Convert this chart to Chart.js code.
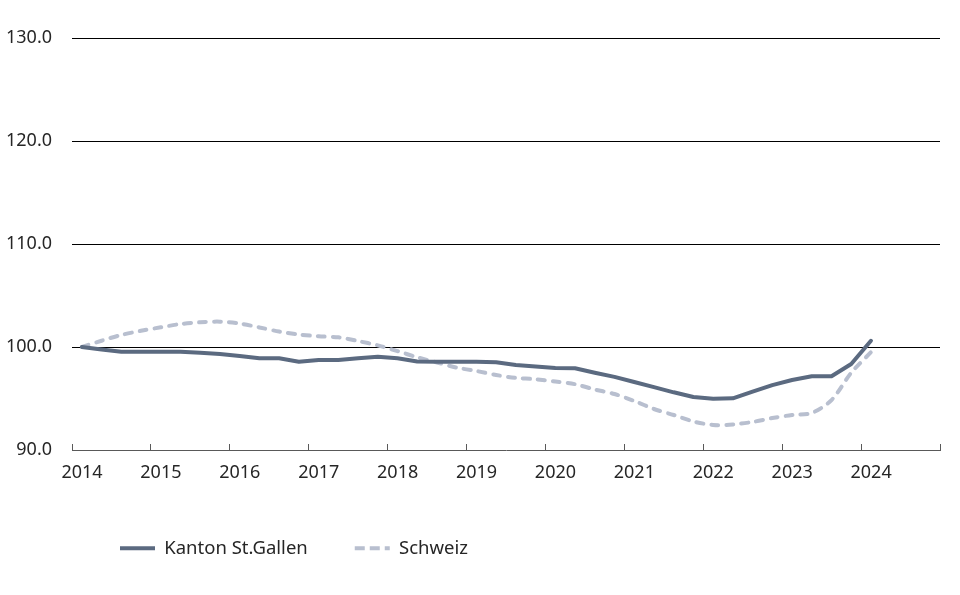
<!DOCTYPE html>
<html>
<head>
<meta charset="utf-8">
<script src="https://cdn.jsdelivr.net/npm/chart.js@4.4.1/dist/chart.umd.min.js"></script>
<style>
html,body{margin:0;padding:0;background:#fff;}
#wrap{width:960px;height:595px;}
</style>
</head>
<body>
<div id="wrap"><canvas id="c" width="960" height="595"></canvas></div>
<script>
// Quarters (2014 Q1 .. 2024 Q1)
const quarters = [
 "2014-Q1","2014-Q2","2014-Q3","2014-Q4",
 "2015-Q1","2015-Q2","2015-Q3","2015-Q4",
 "2016-Q1","2016-Q2","2016-Q3","2016-Q4",
 "2017-Q1","2017-Q2","2017-Q3","2017-Q4",
 "2018-Q1","2018-Q2","2018-Q3","2018-Q4",
 "2019-Q1","2019-Q2","2019-Q3","2019-Q4",
 "2020-Q1","2020-Q2","2020-Q3","2020-Q4",
 "2021-Q1","2021-Q2","2021-Q3","2021-Q4",
 "2022-Q1","2022-Q2","2022-Q3","2022-Q4",
 "2023-Q1","2023-Q2","2023-Q3","2023-Q4",
 "2024-Q1"
];
const kantonStGallen = [
 100.0, 99.76, 99.54, 99.54,
 99.54, 99.54, 99.45, 99.32,
 99.13, 98.9, 98.9, 98.57,
 98.74, 98.74, 98.9, 99.06,
 98.9, 98.6, 98.57, 98.57,
 98.57, 98.51, 98.25, 98.1,
 97.96, 97.93, 97.5, 97.1,
 96.6, 96.1, 95.6, 95.15,
 94.98, 95.02, 95.66, 96.3,
 96.8, 97.16, 97.16, 98.35,
 100.6
];
const schweiz = [
 100.0, 100.61, 101.17, 101.57,
 101.91, 102.23, 102.4, 102.46,
 102.28, 101.9, 101.5, 101.21,
 101.04, 100.94, 100.58, 100.16,
 99.6, 99.0, 98.5, 98.0,
 97.67, 97.28, 97.0, 96.87,
 96.65, 96.39, 95.87, 95.44,
 94.76, 93.98, 93.4, 92.77,
 92.43, 92.48, 92.72, 93.1,
 93.4, 93.6, 94.85, 97.5,
 99.5
];
const yearTicks = [2014,2015,2016,2017,2018,2019,2020,2021,2022,2023,2024,2025];
const yTicks = [90,100,110,120,130];
const seriesNames = ["Kanton St.Gallen","Schweiz"];

// position of each quarter at its mid-point on a year axis
function qx(q){ const p=q.split("-Q"); return +p[0] + (+p[1]-0.5)/4; }
const ptsKanton = quarters.map((q,i)=>({x:qx(q), y:kantonStGallen[i]}));
const ptsSchweiz = quarters.map((q,i)=>({x:qx(q), y:schweiz[i]}));

const FONT = "'Noto Sans', 'Open Sans', sans-serif";
const TXT = '#262626';
const C1 = '#5b6a80';
const C2 = '#b8bfcf';

const legendPlacer = {
  id:'legendPlacer',
  beforeDraw(chart){
    const lg = chart.legend;
    if(!lg) return;
    const pad = lg.options.labels.padding;
    lg.left = 120 - pad;
    lg.right = 960;
    lg.top = 548 - 9 - pad;
    lg.bottom = 595;
    lg.width = lg.right - lg.left;
    lg.height = lg.bottom - lg.top;
  }
};

new Chart(document.getElementById('c'), {
  type:'line',
  data:{
    datasets:[
      {label:seriesNames[0], data:ptsKanton, borderColor:C1, backgroundColor:C1,
       borderWidth:4, pointRadius:0, tension:0, borderCapStyle:'round', borderJoinStyle:'round'},
      {label:seriesNames[1], data:ptsSchweiz, borderColor:C2, backgroundColor:C2,
       borderWidth:4, pointRadius:0, tension:0.3, borderDash:[7,8], borderCapStyle:'round'}
    ]
  },
  options:{
    responsive:false,
    animation:false,
    events:[],
    layout:{padding:{top:38,right:20,bottom:65,left:0}},
    plugins:{
      tooltip:{enabled:false},
      legend:{
        position:'bottom',
        align:'start',
        maxHeight:40,
        labels:{
          usePointStyle:true,
          pointStyle:'line',
          pointStyleWidth:35,
          boxHeight:4,
          padding:47,
          color:TXT,
          font:{family:FONT,size:18.5},
          generateLabels(chart){
            return chart.data.datasets.map((d,i)=>({
              text:d.label, strokeStyle:d.borderColor, fillStyle:d.borderColor,
              lineWidth:4, lineDash:d.borderDash ? [10,5] : [], lineCap:'butt',
              pointStyle:'line', datasetIndex:i, fontColor:TXT
            }));
          }
        }
      }
    },
    scales:{
      x:{
        type:'linear', min:2014, max:2025,
        afterBuildTicks(s){ s.ticks = yearTicks.map(v=>({value:v})); },
        afterFit(s){ s.height = 40; },
        border:{display:true,color:'#595959',width:1},
        grid:{display:true,drawOnChartArea:false,drawTicks:true,tickLength:-6,color:'#595959',lineWidth:1},
        ticks:{
          padding:18, labelOffset:10, maxRotation:0, autoSkip:false,
          color:TXT, font:{family:FONT,size:18},
          callback(v){ return v===2025 ? '' : String(v); }
        }
      },
      y:{
        min:90, max:130,
        afterBuildTicks(s){ s.ticks = yTicks.map(v=>({value:v})); },
        afterFit(s){ s.width = 72; },
        border:{display:false},
        grid:{drawTicks:false, color(ctx){ return ctx.tick && ctx.tick.value===90 ? 'rgba(0,0,0,0)' : '#000'; }, lineWidth:1},
        ticks:{padding:20, color:TXT, font:{family:FONT,size:18},
          callback(v){ return Number(v).toFixed(1); }}
      }
    }
  },
  plugins:[legendPlacer]
});
</script>
</body>
</html>
